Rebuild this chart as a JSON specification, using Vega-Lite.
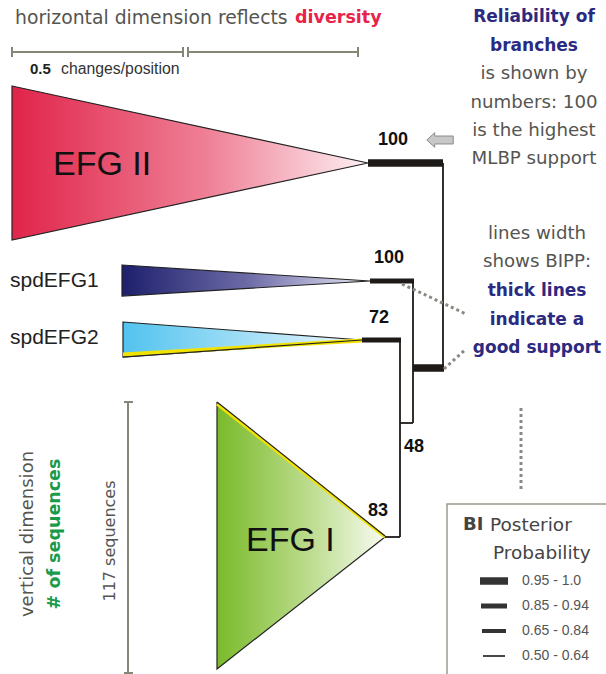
{
  "$schema": "https://vega.github.io/schema/vega-lite/v6.json",
  "width": 606,
  "height": 674,
  "padding": 0,
  "autosize": {"type": "none"},
  "background": "white",
  "config": {"view": {"stroke": null}},
  "datasets": {
    "clades": [
      {"clade": "EFG II", "x": 12, "y": 86, "y2": 240},
      {"clade": "EFG II", "x": 368, "y": 163, "y2": 163},
      {"clade": "spdEFG1", "x": 122, "y": 265, "y2": 296},
      {"clade": "spdEFG1", "x": 370, "y": 281, "y2": 281},
      {"clade": "spdEFG2", "x": 123, "y": 322, "y2": 357},
      {"clade": "spdEFG2", "x": 362, "y": 340, "y2": 340},
      {"clade": "EFG I", "x": 217, "y": 403, "y2": 669},
      {"clade": "EFG I", "x": 385, "y": 537, "y2": 537}
    ],
    "branches": [
      {"id": "EFG II", "x": 368, "y": 163, "x2": 443, "y2": 163, "support": "0.95 - 1.0"},
      {"id": "root", "x": 443, "y": 163, "x2": 443, "y2": 368, "support": "0.50 - 0.64"},
      {"id": "n1", "x": 413, "y": 368, "x2": 444, "y2": 368, "support": "0.95 - 1.0"},
      {"id": "spdEFG1", "x": 370, "y": 281, "x2": 414, "y2": 281, "support": "0.85 - 0.94"},
      {"id": "n1v", "x": 413, "y": 281, "x2": 413, "y2": 423, "support": "0.50 - 0.64"},
      {"id": "n2", "x": 400, "y": 423, "x2": 413, "y2": 423, "support": "0.50 - 0.64"},
      {"id": "spdEFG2", "x": 362, "y": 340, "x2": 401, "y2": 340, "support": "0.85 - 0.94"},
      {"id": "n2v", "x": 400, "y": 340, "x2": 400, "y2": 537, "support": "0.50 - 0.64"},
      {"id": "EFG I", "x": 385, "y": 537, "x2": 400, "y2": 537, "support": "0.50 - 0.64"}
    ],
    "legendLines": [
      {"x": 480, "x2": 508, "y": 581, "y2": 581, "support": "0.95 - 1.0"},
      {"x": 481, "x2": 507, "y": 606, "y2": 606, "support": "0.85 - 0.94"},
      {"x": 482, "x2": 506, "y": 631, "y2": 631, "support": "0.65 - 0.84"},
      {"x": 483, "x2": 505, "y": 656, "y2": 656, "support": "0.50 - 0.64"}
    ],
    "yellowEdges": [
      {"x": 217, "y": 404, "x2": 385, "y2": 537, "w": 3},
      {"x": 123, "y": 354.5, "x2": 362, "y2": 340.5, "w": 4}
    ],
    "blackEdges": [
      {"x": 123, "y": 357, "x2": 362, "y2": 340},
      {"x": 217, "y": 402, "x2": 385, "y2": 536}
    ],
    "scaleBars": [
      {"x": 12, "y": 52, "x2": 183, "y2": 52},
      {"x": 188, "y": 52, "x2": 358, "y2": 52},
      {"x": 12, "y": 47, "x2": 12, "y2": 57},
      {"x": 183, "y": 47, "x2": 183, "y2": 57},
      {"x": 188, "y": 47, "x2": 188, "y2": 57},
      {"x": 358, "y": 47, "x2": 358, "y2": 57},
      {"x": 128, "y": 402, "x2": 128, "y2": 673},
      {"x": 124, "y": 402, "x2": 133, "y2": 402},
      {"x": 124, "y": 673, "x2": 133, "y2": 673}
    ],
    "dotted": [
      {"x": 402, "y": 284, "x2": 466, "y2": 314},
      {"x": 444, "y": 369, "x2": 466, "y2": 349},
      {"x": 521, "y": 408, "x2": 521, "y2": 491}
    ],
    "box": [{"x": 447, "y": 504, "x2": 612, "y2": 680}],
    "arrow": [{"x": 440, "y": 140}],
    "bigLabels": [
      {"text": "EFG II", "x": 53, "y": 165},
      {"text": "EFG I", "x": 246, "y": 541}
    ],
    "tipLabels": [
      {"text": "spdEFG1", "x": 10, "y": 281},
      {"text": "spdEFG2", "x": 10, "y": 338}
    ],
    "supportLabels": [
      {"text": "100", "x": 393, "y": 140},
      {"text": "100", "x": 389, "y": 258},
      {"text": "72", "x": 379, "y": 318},
      {"text": "48", "x": 414, "y": 447},
      {"text": "83", "x": 378, "y": 511}
    ],
    "grayNotes": [
      {"text": "is shown by", "x": 534, "y": 74},
      {"text": "numbers: 100", "x": 534, "y": 103},
      {"text": "is the highest", "x": 534, "y": 131},
      {"text": "MLBP support", "x": 534, "y": 159},
      {"text": "lines width", "x": 537, "y": 234},
      {"text": "shows  BIPP:", "x": 537, "y": 262}
    ],
    "navyNotes": [
      {"text": "Reliability of", "x": 534, "y": 17},
      {"text": "branches", "x": 534, "y": 46},
      {"text": "thick lines", "x": 537, "y": 291},
      {"text": "indicate a", "x": 537, "y": 320},
      {"text": "good support", "x": 537, "y": 348}
    ],
    "legendLabels": [
      {"text": "0.95 - 1.0", "x": 522, "y": 581},
      {"text": "0.85 - 0.94", "x": 522, "y": 606},
      {"text": "0.65 - 0.84", "x": 522, "y": 631},
      {"text": "0.50 - 0.64", "x": 522, "y": 656}
    ]
  },
  "encoding": {
    "x": {"field": "x", "type": "quantitative", "scale": {"domain": [0, 606], "nice": false, "zero": false}, "axis": null},
    "y": {"field": "y", "type": "quantitative", "scale": {"domain": [0, 674], "nice": false, "zero": false, "reverse": true}, "axis": null}
  },
  "layer": [
    {
      "data": {"name": "clades"},
      "transform": [{"filter": "datum.clade == 'EFG II'"}],
      "mark": {"type": "area", "orient": "vertical", "stroke": "#222", "strokeWidth": 1.2,
        "fill": {"gradient": "linear", "x1": 0, "y1": 0, "x2": 1, "y2": 0,
          "stops": [{"offset": 0, "color": "#e0244a"}, {"offset": 0.55, "color": "#ef8096"}, {"offset": 1, "color": "#fdf0f3"}]}},
      "encoding": {"y2": {"field": "y2"}}
    },
    {
      "data": {"name": "clades"},
      "transform": [{"filter": "datum.clade == 'spdEFG1'"}],
      "mark": {"type": "area", "orient": "vertical", "stroke": "#222", "strokeWidth": 1.2,
        "fill": {"gradient": "linear", "x1": 0, "y1": 0, "x2": 1, "y2": 0,
          "stops": [{"offset": 0, "color": "#1d1f6c"}, {"offset": 0.5, "color": "#6c6aa6"}, {"offset": 1, "color": "#e6e6f4"}]}},
      "encoding": {"y2": {"field": "y2"}}
    },
    {
      "data": {"name": "clades"},
      "transform": [{"filter": "datum.clade == 'spdEFG2'"}],
      "mark": {"type": "area", "orient": "vertical", "stroke": "#222", "strokeWidth": 1.2,
        "fill": {"gradient": "linear", "x1": 0, "y1": 0, "x2": 1, "y2": 0,
          "stops": [{"offset": 0, "color": "#52c3ef"}, {"offset": 1, "color": "#eef8fd"}]}},
      "encoding": {"y2": {"field": "y2"}}
    },
    {
      "data": {"name": "clades"},
      "transform": [{"filter": "datum.clade == 'EFG I'"}],
      "mark": {"type": "area", "orient": "vertical", "stroke": "#222", "strokeWidth": 1.2,
        "fill": {"gradient": "linear", "x1": 0, "y1": 0, "x2": 1, "y2": 0,
          "stops": [{"offset": 0, "color": "#7aba2a"}, {"offset": 0.55, "color": "#bcdc8e"}, {"offset": 1, "color": "#f7fbf0"}]}},
      "encoding": {"y2": {"field": "y2"}}
    },
    {
      "data": {"name": "yellowEdges"},
      "mark": {"type": "rule", "color": "#f2e200"},
      "encoding": {"x2": {"field": "x2"}, "y2": {"field": "y2"}, "strokeWidth": {"field": "w", "type": "quantitative", "scale": null}}
    },
    {
      "data": {"name": "blackEdges"},
      "mark": {"type": "rule", "color": "#222", "strokeWidth": 1.2},
      "encoding": {"x2": {"field": "x2"}, "y2": {"field": "y2"}}
    },
    {
      "data": {"name": "branches"},
      "mark": {"type": "rule", "color": "#1e1a18"},
      "encoding": {
        "x2": {"field": "x2"}, "y2": {"field": "y2"},
        "strokeWidth": {"field": "support", "type": "nominal", "legend": null,
          "scale": {"type": "ordinal", "domain": ["0.95 - 1.0", "0.85 - 0.94", "0.65 - 0.84", "0.50 - 0.64"], "range": [7.5, 5, 4, 1.8]}}
      }
    },
    {
      "data": {"name": "legendLines"},
      "mark": {"type": "rule", "color": "#333"},
      "encoding": {
        "x2": {"field": "x2"}, "y2": {"field": "y2"},
        "strokeWidth": {"field": "support", "type": "nominal", "legend": null,
          "scale": {"type": "ordinal", "domain": ["0.95 - 1.0", "0.85 - 0.94", "0.65 - 0.84", "0.50 - 0.64"], "range": [7.5, 5, 4, 1.8]}}
      }
    },
    {
      "data": {"name": "scaleBars"},
      "mark": {"type": "rule", "color": "#858578", "strokeWidth": 2},
      "encoding": {"x2": {"field": "x2"}, "y2": {"field": "y2"}}
    },
    {
      "data": {"name": "dotted"},
      "mark": {"type": "rule", "color": "#8a8a84", "strokeWidth": 3, "strokeDash": [3, 3]},
      "encoding": {"x2": {"field": "x2"}, "y2": {"field": "y2"}}
    },
    {
      "data": {"name": "box"},
      "mark": {"type": "rect", "fill": null, "stroke": "#9a9a90", "strokeWidth": 1.5},
      "encoding": {"x2": {"field": "x2"}, "y2": {"field": "y2"}}
    },
    {
      "data": {"name": "arrow"},
      "mark": {"type": "point", "filled": true, "fill": "#c8c8c8", "stroke": "#8a8a8a", "strokeWidth": 1, "opacity": 1, "size": 700,
        "shape": "M -1 0 L -0.4 -0.55 L -0.4 -0.3 L 1 -0.3 L 1 0.3 L -0.4 0.3 L -0.4 0.55 Z"}
    },
    {
      "data": {"name": "bigLabels"},
      "mark": {"type": "text", "font": "Liberation Sans", "fontSize": 34, "align": "left", "baseline": "middle", "color": "#111"},
      "encoding": {"text": {"field": "text"}}
    },
    {
      "data": {"name": "tipLabels"},
      "mark": {"type": "text", "font": "Liberation Sans", "fontSize": 21, "align": "left", "baseline": "middle", "color": "#222"},
      "encoding": {"text": {"field": "text"}}
    },
    {
      "data": {"name": "supportLabels"},
      "mark": {"type": "text", "font": "Liberation Sans", "fontSize": 18, "fontWeight": "bold", "align": "center", "baseline": "middle", "color": "#111"},
      "encoding": {"text": {"field": "text"}}
    },
    {
      "data": {"values": [{"text": "horizontal dimension reflects", "x": 15, "y": 18}]},
      "mark": {"type": "text", "font": "DejaVu Sans", "fontSize": 18.8, "align": "left", "baseline": "middle", "color": "#555550"},
      "encoding": {"text": {"field": "text"}}
    },
    {
      "data": {"values": [{"text": "diversity", "x": 295, "y": 18}]},
      "mark": {"type": "text", "font": "DejaVu Sans", "fontSize": 17.5, "fontWeight": "bold", "align": "left", "baseline": "middle", "color": "#e8234a"},
      "encoding": {"text": {"field": "text"}}
    },
    {
      "data": {"values": [{"text": "0.5", "x": 30, "y": 69}]},
      "mark": {"type": "text", "font": "Liberation Sans", "fontSize": 15, "fontWeight": "bold", "align": "left", "baseline": "middle", "color": "#222"},
      "encoding": {"text": {"field": "text"}}
    },
    {
      "data": {"values": [{"text": "changes/position", "x": 61, "y": 69}]},
      "mark": {"type": "text", "font": "Liberation Sans", "fontSize": 15.8, "align": "left", "baseline": "middle", "color": "#333"},
      "encoding": {"text": {"field": "text"}}
    },
    {
      "data": {"name": "grayNotes"},
      "mark": {"type": "text", "font": "DejaVu Sans", "fontSize": 18.2, "align": "center", "baseline": "middle", "color": "#555550"},
      "encoding": {"text": {"field": "text"}}
    },
    {
      "data": {"name": "navyNotes"},
      "mark": {"type": "text", "font": "DejaVu Sans", "fontSize": 17, "fontWeight": "bold", "align": "center", "baseline": "middle", "color": "#2b2a80"},
      "encoding": {"text": {"field": "text"}}
    },
    {
      "data": {"values": [{"text": "vertical dimension", "x": 28, "y": 534}]},
      "mark": {"type": "text", "font": "DejaVu Sans", "fontSize": 18, "angle": 270, "align": "center", "baseline": "middle", "color": "#555550"},
      "encoding": {"text": {"field": "text"}}
    },
    {
      "data": {"values": [{"text": "# of sequences", "x": 55, "y": 534}]},
      "mark": {"type": "text", "font": "DejaVu Sans", "fontSize": 17.5, "fontWeight": "bold", "angle": 270, "align": "center", "baseline": "middle", "color": "#1a9a4a"},
      "encoding": {"text": {"field": "text"}}
    },
    {
      "data": {"values": [{"text": "117 sequences", "x": 110, "y": 541}]},
      "mark": {"type": "text", "font": "DejaVu Sans", "fontSize": 16, "angle": 270, "align": "center", "baseline": "middle", "color": "#555550"},
      "encoding": {"text": {"field": "text"}}
    },
    {
      "data": {"values": [{"text": "BI", "x": 463, "y": 525}]},
      "mark": {"type": "text", "font": "DejaVu Sans", "fontSize": 18, "fontWeight": "bold", "align": "left", "baseline": "middle", "color": "#444"},
      "encoding": {"text": {"field": "text"}}
    },
    {
      "data": {"values": [{"text": "Posterior", "x": 490, "y": 525}, {"text": "Probability", "x": 493, "y": 553}]},
      "mark": {"type": "text", "font": "DejaVu Sans", "fontSize": 18.5, "align": "left", "baseline": "middle", "color": "#444"},
      "encoding": {"text": {"field": "text"}}
    },
    {
      "data": {"name": "legendLabels"},
      "mark": {"type": "text", "font": "Liberation Sans", "fontSize": 14, "align": "left", "baseline": "middle", "color": "#555"},
      "encoding": {"text": {"field": "text"}}
    }
  ]
}
